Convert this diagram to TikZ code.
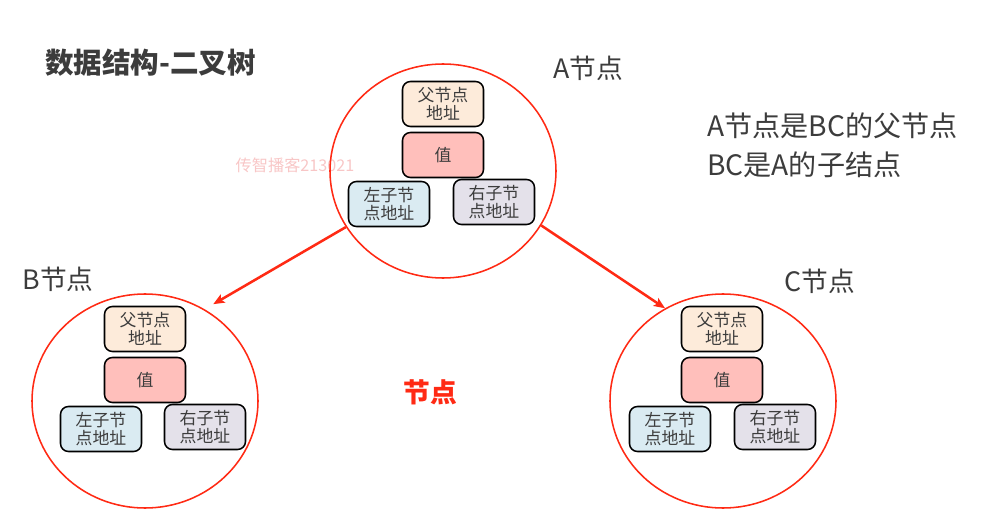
\documentclass[tikz,border=0pt]{standalone}
\usepackage{fontspec}
\setmainfont{Noto Sans CJK SC}
\usetikzlibrary{arrows.meta, positioning, shapes.geometric}
\definecolor{nodered}{HTML}{FF2A14}
\definecolor{inkgray}{HTML}{3C3C3C}
\definecolor{peach}{HTML}{FDEBDA}
\definecolor{rosy}{HTML}{FFBFBB}
\definecolor{iceblue}{HTML}{DAEBF2}
\definecolor{lilac}{HTML}{E4E1EA}
\definecolor{wmpink}{HTML}{F8C6C6}

\begin{document}
\begin{tikzpicture}[x=0.25mm, y=-0.25mm,
  field/.style={draw=black, line width=1.1pt, rounded corners=2mm, text=inkgray,
    minimum width=20.25mm, minimum height=11.25mm, inner sep=0pt, align=center,
    font=\fontsize{12}{13.2}\selectfont},
  treenode/.style={ellipse, draw=nodered, line width=1.1pt, minimum width=56.5mm,
    minimum height=53.5mm, inner sep=0pt},
  caption/.style={text=inkgray, inner sep=0pt, font=\fontsize{19}{22}\selectfont},
  link/.style={nodered, line width=1.8pt, -{Stealth[length=2.8mm, width=2.3mm, inset=0.6mm]}}]

% Canvas
\useasboundingbox (0,0) rectangle (1008,516);

% Title and notes
\node[caption, anchor=west, font=\fontsize{20.3}{24}\selectfont\bfseries] (title) at (45,63) {数据结构-二叉树};
\node[caption, anchor=west, font=\fontsize{20}{24}\selectfont] (note1) at (707,126) {A节点是BC的父节点};
\node[caption, anchor=west, font=\fontsize{20}{24}\selectfont] (note2) at (707,165) {BC是A的子结点};
\node[text=wmpink, inner sep=0pt, font=\fontsize{11.5}{13}\selectfont] (mark) at (295,165) {传智播客213021};

% Tree nodes
\node[treenode] (treeA) at (443,171) {};
\node[treenode] (treeB) at (145,401) {};
\node[treenode] (treeC) at (723,401) {};

\node[caption] (labelA) at (588,68) {A节点};
\node[caption] (labelB) at (58,279) {B节点};
\node[caption] (labelC) at (820,281) {C节点};

% Fields inside each node
\foreach \t/\vx/\vy/\lx/\rx in {A/443/155/389/494, B/145/380/101/205, C/722/380/670/775} {
  \node[field, fill=peach] (\t-par) at (\vx,\vy-51) {父节点\\地址};
  \node[field, fill=rosy] (\t-val) at (\vx,\vy) {值};
  \node[field, fill=iceblue] (\t-left) at (\lx,\vy+49) {左子节\\点地址};
  \node[field, fill=lilac] (\t-right) at (\rx,\vy+47) {右子节\\点地址};
}

% Links
\draw[link, shorten >=2.5mm] (treeA.210) -- (treeB.57);
\draw[link] (treeA.331) -- (treeC.122);

\node[text=nodered, inner sep=0pt, font=\fontsize{19}{22}\selectfont\bfseries] (legend) at (430,392) {节点};

\end{tikzpicture}
\end{document}
